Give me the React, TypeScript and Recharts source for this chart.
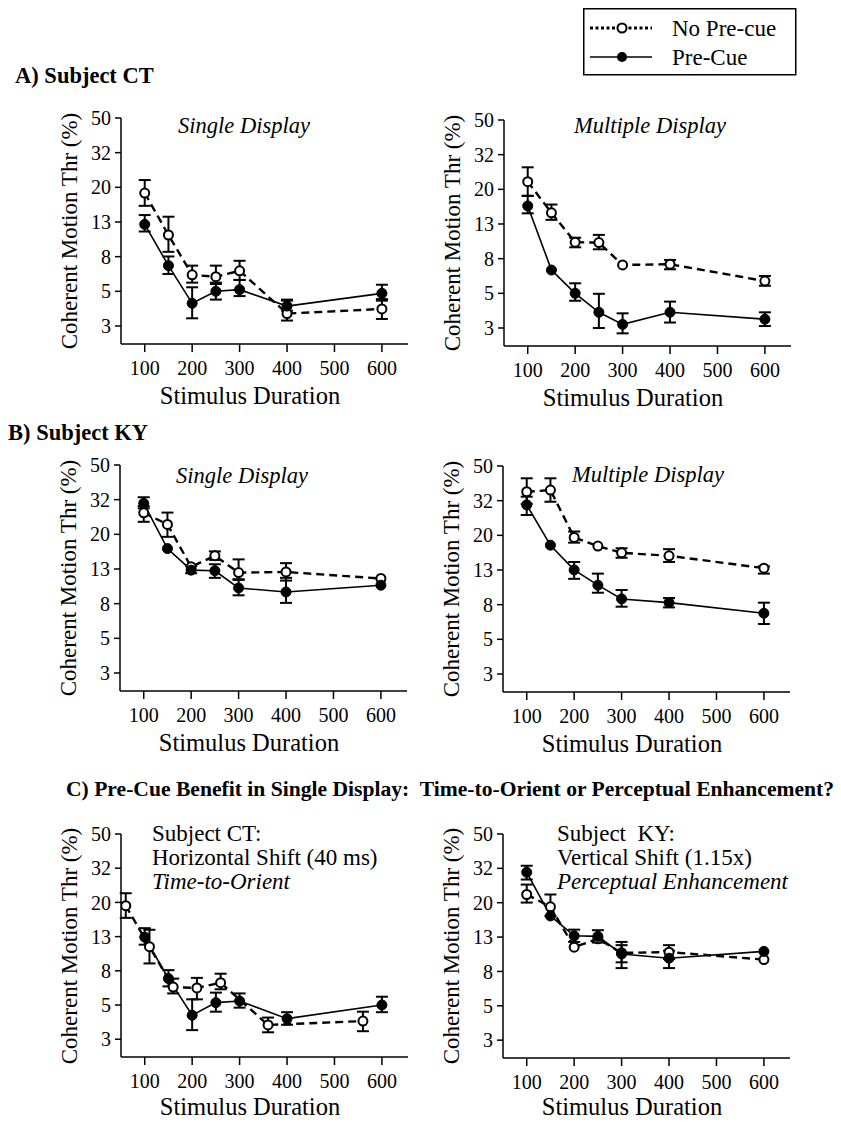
import { LineChart, Line, XAxis, YAxis, ErrorBar } from 'recharts';

const FONT = '"Liberation Serif", "Times New Roman", serif';

// log axis: ticks are evenly spaced (x1.6), labels are the rounded values printed on the figure
const Y_TICKS = [3, 4.8, 7.68, 12.29, 19.66, 31.46, 50.33];
const Y_TICK_LABELS = ['3', '5', '8', '13', '20', '32', '50'];
const X_TICKS = [100, 200, 300, 400, 500, 600];
const DURATIONS = [100, 150, 200, 250, 300, 400, 600];
const SHIFTED_DURATIONS = [60, 110, 160, 210, 260, 360, 560];

// A) Subject CT, single display
const A_SINGLE_NOCUE = [18.2, 10.3, 6.0, 5.85, 6.34, 3.55, 3.78];
const A_SINGLE_NOCUE_HI = [21.7, 13.2, 6.8, 6.8, 7.26, 4.23, 4.23];
const A_SINGLE_NOCUE_LO = [15.3, 8.2, 5.4, 5.3, 5.6, 3.23, 3.3];
const A_SINGLE_CUE = [11.9, 6.8, 4.08, 4.8, 4.91, 3.93, 4.67];
const A_SINGLE_CUE_HI = [13.5, 7.7, 5.07, 5.4, 5.6, 4.29, 5.25];
const A_SINGLE_CUE_LO = [10.8, 6.07, 3.33, 4.29, 4.5, 3.69, 4.32];

// A) Subject CT, multiple display
const A_MULTI_NOCUE = [21.8, 14.3, 9.59, 9.55, 7.05, 7.12, 5.67];
const A_MULTI_NOCUE_HI = [26.5, 16.0, 10.2, 10.6, null, 7.55, 6.07];
const A_MULTI_NOCUE_LO = [18.0, 13.0, 8.96, 8.72, null, 6.65, 5.32];
const A_MULTI_CUE = [15.7, 6.58, 4.8, 3.71, 3.15, 3.71, 3.38];
const A_MULTI_CUE_HI = [18.0, null, 5.5, 4.77, 3.66, 4.29, 3.71];
const A_MULTI_CUE_LO = [14.2, null, 4.34, 3.0, 2.79, 3.23, 3.08];

// B) Subject KY, single display
const B_SINGLE_NOCUE = [26.3, 22.5, 12.65, 14.7, 11.7, 11.8, 10.8];
const B_SINGLE_NOCUE_HI = [28.8, 26.4, null, 15.6, 14.0, 13.3, null];
const B_SINGLE_NOCUE_LO = [23.3, 19.0, null, 13.9, 10.6, 10.5, null];
const B_SINGLE_CUE = [29.9, 16.2, 12.1, 12.0, 9.5, 9.0, 9.86];
const B_SINGLE_CUE_HI = [32.5, null, 12.8, 13.1, 10.7, 10.9, null];
const B_SINGLE_CUE_LO = [28.0, null, 11.6, 10.9, 8.6, 7.76, null];

// B) Subject KY, multiple display
const B_MULTI_NOCUE = [35.5, 36.3, 19.1, 17.0, 15.5, 14.9, 12.6];
const B_MULTI_NOCUE_HI = [42.6, 42.6, 20.7, null, 16.5, 16.3, 12.9];
const B_MULTI_NOCUE_LO = [30.1, 31.0, 17.8, null, 14.5, 13.7, 11.7];
const B_MULTI_CUE = [29.7, 17.2, 12.3, 10.0, 8.3, 7.89, 6.83];
const B_MULTI_CUE_HI = [33.2, null, 13.7, 11.7, 9.37, 8.4, 7.89];
const B_MULTI_CUE_LO = [25.9, null, 10.9, 9.03, 7.47, 7.4, 5.91];

// C) CT with horizontal shift (no pre-cue plotted at shifted durations)
const C_CT_NOCUE = [18.8, 10.7, 6.14, 6.07, 6.52, 3.65, 3.85];
const C_CT_NOCUE_HI = [22.3, 13.5, 6.9, 6.97, 7.38, 4.04, 4.38];
const C_CT_NOCUE_LO = [15.9, 8.5, 5.63, 5.19, 5.96, 3.3, 3.35];
const C_CT_CUE = [12.2, 6.9, 4.17, 4.96, 5.07, 3.98, 4.8];
const C_CT_CUE_HI = [13.8, 7.75, 5.19, 5.69, 5.63, 4.35, 5.38];
const C_CT_CUE_LO = [11.0, 6.2, 3.4, 4.38, 4.63, 3.66, 4.35];

// C) KY with vertical shift
const C_KY_NOCUE = [22.0, 18.6, 10.7, 12.0, 9.9, 10.0, 9.03];
const C_KY_NOCUE_HI = [25.2, 22.0, null, null, 11.5, 11.0, null];
const C_KY_NOCUE_LO = [19.7, 16.4, null, null, 8.7, 9.1, null];
const C_KY_CUE = [29.8, 16.4, 12.5, 12.4, 9.75, 9.2, 10.1];
const C_KY_CUE_HI = [32.6, null, 13.6, 13.5, 11.0, 10.2, null];
const C_KY_CUE_LO = [27.0, null, 11.5, 11.4, 8.04, 8.04, null];

type Row = { x: number; y: number; err: [number, number] | null };

function buildRows(xs: number[], ys: number[], hi: (number | null)[], lo: (number | null)[]): Row[] {
  return xs.map((x, i) => {
    const h = hi[i];
    const l = lo[i];
    return { x, y: ys[i], err: h == null || l == null ? null : [ys[i] - l, h - ys[i]] };
  });
}

const PLOT_W = 287;
const AXIS_W = 60;
const M_TOP = 12;
const M_RIGHT = 10;
const AXIS_H = 40;

interface PanelProps {
  left: number;
  top: number;
  plotH: number;
  noCue: Row[];
  cue: Row[];
}

function Panel({ left, top, plotH, noCue, cue }: PanelProps) {
  return (
    <div style={{ position: 'absolute', left: left - AXIS_W, top: top - M_TOP }}>
      <LineChart
        width={AXIS_W + PLOT_W + M_RIGHT}
        height={M_TOP + plotH + AXIS_H}
        margin={{ top: M_TOP, right: M_RIGHT, left: 0, bottom: 0 }}
      >
        <XAxis
          type="number"
          dataKey="x"
          domain={[50, 655]}
          ticks={X_TICKS}
          interval={0}
          allowDataOverflow
          height={AXIS_H}
          tickSize={8}
          tickMargin={9}
          axisLine={{ stroke: '#000', strokeWidth: 1.5 }}
          tickLine={{ stroke: '#000', strokeWidth: 1.5 }}
          tick={{ fill: '#000', fontSize: 20, fontFamily: FONT }}
        />
        <YAxis
          type="number"
          scale="log"
          domain={[2.35, 50.33]}
          ticks={Y_TICKS}
          interval={0}
          allowDataOverflow
          width={AXIS_W}
          tickSize={6}
          tickMargin={4}
          tickFormatter={(v: number) => Y_TICK_LABELS[Y_TICKS.indexOf(v)] ?? ''}
          axisLine={{ stroke: '#000', strokeWidth: 1.5 }}
          tickLine={{ stroke: '#000', strokeWidth: 1.5 }}
          tick={{ fill: '#000', fontSize: 20, fontFamily: FONT }}
        />
        <Line
          data={noCue}
          dataKey="y"
          stroke="#000"
          strokeWidth={2.4}
          strokeDasharray="8 5"
          dot={{ r: 4.5, fill: '#fff', stroke: '#000', strokeWidth: 2, strokeDasharray: 'none' }}
          isAnimationActive={false}
        >
          <ErrorBar dataKey="err" width={6} strokeWidth={2} stroke="#000" direction="y" />
        </Line>
        <Line
          data={cue}
          dataKey="y"
          stroke="#000"
          strokeWidth={1.6}
          dot={{ r: 5, fill: '#000', stroke: '#000', strokeWidth: 1 }}
          isAnimationActive={false}
        >
          <ErrorBar dataKey="err" width={6} strokeWidth={2} stroke="#000" direction="y" />
        </Line>
      </LineChart>
    </div>
  );
}

const text = (x: number, y: number, content: string, extra: React.CSSProperties = {}) => (
  <div
    style={{
      position: 'absolute',
      left: x,
      top: y,
      transform: 'translate(-50%, -50%)',
      whiteSpace: 'nowrap',
      lineHeight: 1,
      fontFamily: FONT,
      color: '#000',
      ...extra,
    }}
  >
    {content}
  </div>
);

function AxisTitles({ left, top, plotH, labelGap }: { left: number; top: number; plotH: number; labelGap: number }) {
  return (
    <>
      {text(left - 52, top + plotH / 2, 'Coherent Motion Thr (%)', {
        fontSize: 23,
        transform: 'translate(-50%, -50%) rotate(-90deg)',
      })}
      {text(left + 129, top + plotH + labelGap, 'Stimulus Duration', { fontSize: 24.5 })}
    </>
  );
}

const sectionStyle: React.CSSProperties = {
  position: 'absolute',
  fontFamily: FONT,
  fontWeight: 'bold',
  fontSize: 22.5,
  lineHeight: 1,
  whiteSpace: 'nowrap',
  transform: 'translateY(-50%)',
};

const noteStyle: React.CSSProperties = {
  position: 'absolute',
  fontFamily: FONT,
  fontSize: 23,
  lineHeight: '24px',
  whiteSpace: 'nowrap',
};

function LegendBox() {
  return (
    <svg style={{ position: 'absolute', left: 583, top: 8 }} width={214} height={68}>
      <rect x={0.75} y={0.75} width={212} height={66} fill="#fff" stroke="#000" strokeWidth={1.5} />
      <line x1={7} y1={20} x2={69} y2={20} stroke="#000" strokeWidth={3} strokeDasharray="3 2.5" />
      <circle cx={39} cy={20} r={4.5} fill="#fff" stroke="#000" strokeWidth={2} />
      <line x1={7} y1={49} x2={69} y2={49} stroke="#000" strokeWidth={1.6} />
      <circle cx={39} cy={49} r={5} fill="#000" />
      <text x={89} y={20} dominantBaseline="central" fontFamily={FONT} fontSize={23}>No Pre-cue</text>
      <text x={89} y={49} dominantBaseline="central" fontFamily={FONT} fontSize={23}>Pre-Cue</text>
    </svg>
  );
}

export default function App() {
  const panels = [
    { left: 121, top: 118, plotH: 226, gap: 52, noCue: buildRows(DURATIONS, A_SINGLE_NOCUE, A_SINGLE_NOCUE_HI, A_SINGLE_NOCUE_LO), cue: buildRows(DURATIONS, A_SINGLE_CUE, A_SINGLE_CUE_HI, A_SINGLE_CUE_LO) },
    { left: 504, top: 120, plotH: 226, gap: 52, noCue: buildRows(DURATIONS, A_MULTI_NOCUE, A_MULTI_NOCUE_HI, A_MULTI_NOCUE_LO), cue: buildRows(DURATIONS, A_MULTI_CUE, A_MULTI_CUE_HI, A_MULTI_CUE_LO) },
    { left: 120, top: 465, plotH: 226, gap: 52, noCue: buildRows(DURATIONS, B_SINGLE_NOCUE, B_SINGLE_NOCUE_HI, B_SINGLE_NOCUE_LO), cue: buildRows(DURATIONS, B_SINGLE_CUE, B_SINGLE_CUE_HI, B_SINGLE_CUE_LO) },
    { left: 503, top: 466, plotH: 226, gap: 52, noCue: buildRows(DURATIONS, B_MULTI_NOCUE, B_MULTI_NOCUE_HI, B_MULTI_NOCUE_LO), cue: buildRows(DURATIONS, B_MULTI_CUE, B_MULTI_CUE_HI, B_MULTI_CUE_LO) },
    { left: 121, top: 834, plotH: 223, gap: 50, noCue: buildRows(SHIFTED_DURATIONS, C_CT_NOCUE, C_CT_NOCUE_HI, C_CT_NOCUE_LO), cue: buildRows(DURATIONS, C_CT_CUE, C_CT_CUE_HI, C_CT_CUE_LO) },
    { left: 503, top: 834, plotH: 224, gap: 49, noCue: buildRows(DURATIONS, C_KY_NOCUE, C_KY_NOCUE_HI, C_KY_NOCUE_LO), cue: buildRows(DURATIONS, C_KY_CUE, C_KY_CUE_HI, C_KY_CUE_LO) },
  ];

  return (
    <div style={{ position: 'absolute', left: 0, top: 0, width: 841, height: 1123, background: '#fff', overflow: 'hidden' }}>
      <LegendBox />
      <div style={{ ...sectionStyle, left: 15, top: 76 }}>A) Subject CT</div>
      <div style={{ ...sectionStyle, left: 8, top: 433 }}>B) Subject KY</div>
      <div style={{ ...sectionStyle, left: 66, top: 790, fontSize: 21.6 }}>
        C) Pre-Cue Benefit in Single Display:&nbsp; Time-to-Orient or Perceptual Enhancement?
      </div>

      {panels.map((p, i) => (
        <div key={i}>
          <Panel left={p.left} top={p.top} plotH={p.plotH} noCue={p.noCue} cue={p.cue} />
          <AxisTitles left={p.left} top={p.top} plotH={p.plotH} labelGap={p.gap} />
        </div>
      ))}

      {text(244, 126, 'Single Display', { fontSize: 22.5, fontStyle: 'italic' })}
      {text(650, 126, 'Multiple Display', { fontSize: 22.5, fontStyle: 'italic' })}
      {text(242, 476, 'Single Display', { fontSize: 22.5, fontStyle: 'italic' })}
      {text(648, 475, 'Multiple Display', { fontSize: 22.5, fontStyle: 'italic' })}

      <div style={{ ...noteStyle, left: 152, top: 822 }}>
        Subject CT:
        <br />
        Horizontal Shift (40 ms)
        <br />
        <i>Time-to-Orient</i>
      </div>
      <div style={{ ...noteStyle, left: 557, top: 822 }}>
        Subject&nbsp; KY:
        <br />
        Vertical Shift (1.15x)
        <br />
        <i>Perceptual Enhancement</i>
      </div>
    </div>
  );
}
